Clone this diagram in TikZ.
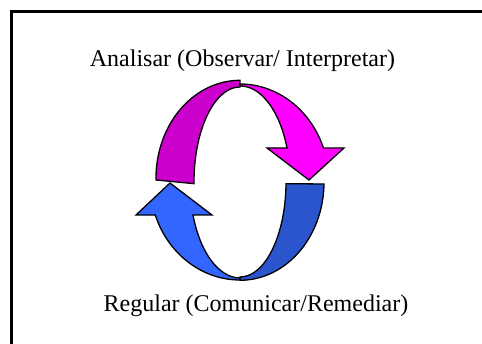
\documentclass[tikz,border=0pt]{standalone}
\usepackage{fontspec}
\setmainfont{Liberation Serif}
\usetikzlibrary{positioning}
\definecolor{MagDark}{HTML}{CC00CC}
\definecolor{MagBright}{HTML}{FF00FF}
\definecolor{BlueDark}{HTML}{2B55CC}
\definecolor{BlueBright}{HTML}{3366FF}
\definecolor{TxtPri}{HTML}{000000}
\tikzset{
  ribbon/.style={draw=black, line width=1.3pt, line join=miter},
  cyclelabel/.style={anchor=base, inner sep=0pt, font=\fontsize{24}{28}\selectfont, text=TxtPri}
}

\begin{document}
\begin{tikzpicture}[x=1pt, y=1pt]
  \useasboundingbox (0,0) rectangle (482,343);
  \fill[white] (0,0) rectangle (482,343);
  \begin{scope}
    \clip (0,0) rectangle (482,343);
    \draw[line width=3pt] (11.5,-10) -- (11.5,331.5) -- (500,331.5);
  \end{scope}

  % upper arrow, back then front
  \filldraw[ribbon, fill=MagDark] (156,163)
    arc[start angle=181, end angle=90, x radius=84, y radius=98]
    -- (240,256)
    arc[start angle=90, end angle=181, x radius=46, y radius=95] -- cycle;
  \filldraw[ribbon, fill=MagBright] (240,259)
    arc[start angle=90, end angle=20.3, x radius=89, y radius=98]
    -- (344,195) -- (309,163) -- (267,195) -- (287,195)
    arc[start angle=20.3, end angle=90, x radius=50, y radius=95] -- cycle;

  % lower arrow, back then front
  \filldraw[ribbon, fill=BlueDark] (324,159)
    arc[start angle=-1, end angle=-90, x radius=84, y radius=98]
    -- (240,66)
    arc[start angle=-90, end angle=-1, x radius=46, y radius=95] -- cycle;
  \filldraw[ribbon, fill=BlueBright] (240,63)
    arc[start angle=270, end angle=199.7, x radius=90, y radius=98]
    -- (136,128) -- (170,160) -- (212,128) -- (193,128)
    arc[start angle=199.7, end angle=270, x radius=50, y radius=95] -- cycle;

  \node[cyclelabel] (analisar) at (242.5,276.3) {Analisar (Observar/ Interpretar)};
  \node[cyclelabel] (regular) at (256,31.3) {Regular (Comunicar/Remediar)};
\end{tikzpicture}
\end{document}
